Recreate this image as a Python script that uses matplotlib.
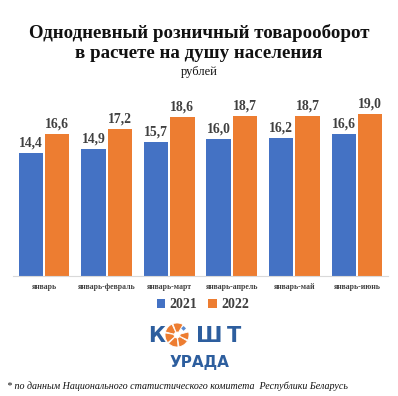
import matplotlib
matplotlib.use("Agg")
import matplotlib.pyplot as plt
import numpy as np
from matplotlib.patches import Wedge, Polygon

categories = ["январь", "январь-февраль", "январь-март", "январь-апрель", "январь-май", "январь-июнь"]
values_2021 = [14.4, 14.9, 15.7, 16.0, 16.2, 16.6]
values_2022 = [16.6, 17.2, 18.6, 18.7, 18.7, 19.0]
series_names = ["2021", "2022"]

BLUE = "#4472C4"
ORANGE = "#ED7D31"
LOGO_BLUE = "#2D5E9E"
TXT = "#404040"
W, H = 398, 396

fig = plt.figure(figsize=(W / 100, H / 100), dpi=100)
fig.patch.set_facecolor("white")

def fx(px):
    return px / W

def fy(py):
    return 1 - py / H

# main axes
left_px, right_px = 12.7, 388.3
base_px = 276
ymax = 22
scale = 8.54
top_px = base_px - ymax * scale
ax = fig.add_axes([fx(left_px), fy(base_px), fx(right_px - left_px), (base_px - top_px) / H])
x = np.arange(len(categories))
bw = 0.39
gap = 0.03
b1 = ax.bar(x - bw / 2 - gap / 2, values_2021, bw, color=BLUE, label=series_names[0])
b2 = ax.bar(x + bw / 2 + gap / 2, values_2022, bw, color=ORANGE, label=series_names[1])
ax.set_xlim(-0.5, len(categories) - 0.5)
ax.set_ylim(0, ymax)
for s in ["top", "right", "left"]:
    ax.spines[s].set_visible(False)
ax.spines["bottom"].set_color("#D9D9D9")
ax.spines["bottom"].set_linewidth(0.8)
ax.set_yticks([])
ax.set_xticks(x)
ax.set_xticklabels(categories, fontsize=5.6, fontweight="bold", color=TXT, family="Liberation Serif")
ax.tick_params(axis="x", length=0, pad=5)

for bars, vals in ((b1, values_2021), (b2, values_2022)):
    for rect, v in zip(bars, vals):
        ax.annotate(f"{v:.1f}".replace(".", ","),
                    (rect.get_x() + rect.get_width() / 2, rect.get_height()),
                    xytext=(0, 2.5), textcoords="offset points", ha="center", va="bottom",
                    fontsize=9.8, fontweight="bold", color=TXT, family="Liberation Serif")

# titles
fig.text(0.5, fy(33), "Однодневный розничный товарооборот", ha="center", va="center",
         fontsize=13.6, fontweight="bold", family="Liberation Serif", color="#111111")
fig.text(0.5, fy(53), "в расчете на душу населения", ha="center", va="center",
         fontsize=13.6, fontweight="bold", family="Liberation Serif", color="#111111")
fig.text(0.5, fy(72), "рублей", ha="center", va="center",
         fontsize=9, family="Liberation Serif", color="#111111")

# legend
leg = fig.legend(handles=[b1, b2], labels=series_names, loc="center", bbox_to_anchor=(fx(203), fy(305)),
                 ncol=2, frameon=False, prop={"family": "Liberation Serif", "weight": "bold", "size": 10},
                 handlelength=0.6, handleheight=0.6, handletextpad=0.3, columnspacing=0.8)
for t in leg.get_texts():
    t.set_color(TXT)

# logo text
fig.text(fx(157), fy(336), "К", ha="center", va="center", fontsize=15, fontweight="bold",
         family="DejaVu Sans", color=LOGO_BLUE)
fig.text(fx(209), fy(336), "Ш", ha="center", va="center", fontsize=15.5, fontweight="bold",
         family="DejaVu Sans", color=LOGO_BLUE)
fig.text(fx(234), fy(336), "Т", ha="center", va="center", fontsize=15, fontweight="bold",
         family="DejaVu Sans", color=LOGO_BLUE)
fig.text(fx(199), fy(363), "УРАДА", ha="center", va="center", fontsize=11, fontweight="bold",
         family="DejaVu Sans", color=LOGO_BLUE)

# logo citrus circle
lax = fig.add_axes([fx(165), fy(347), fx(24), 24 / H])
lax.set_xlim(-1, 1)
lax.set_ylim(-1, 1)
lax.axis("off")
angles = [(60, 110), (115, 165), (170, 220), (225, 275), (280, 330), (335, 15)]
for a0, a1 in angles:
    lax.add_patch(Wedge((0, 0), 1.0, a0, a1, width=0.75, facecolor=ORANGE, edgecolor="white", lw=0.6))
lax.add_patch(Polygon([[0.35, 0.55], [0.55, 0.75], [0.75, 0.55], [0.55, 0.35]], closed=True,
                      facecolor="#5B8BD0", edgecolor="none"))

# footnote
fig.text(fx(7), fy(386), "* по данным Национального статистического комитета  Республики Беларусь",
         ha="left", va="center", fontsize=7.2, style="italic", family="Liberation Serif", color="#111111")

fig.savefig("out.png", dpi=100, facecolor="white")
